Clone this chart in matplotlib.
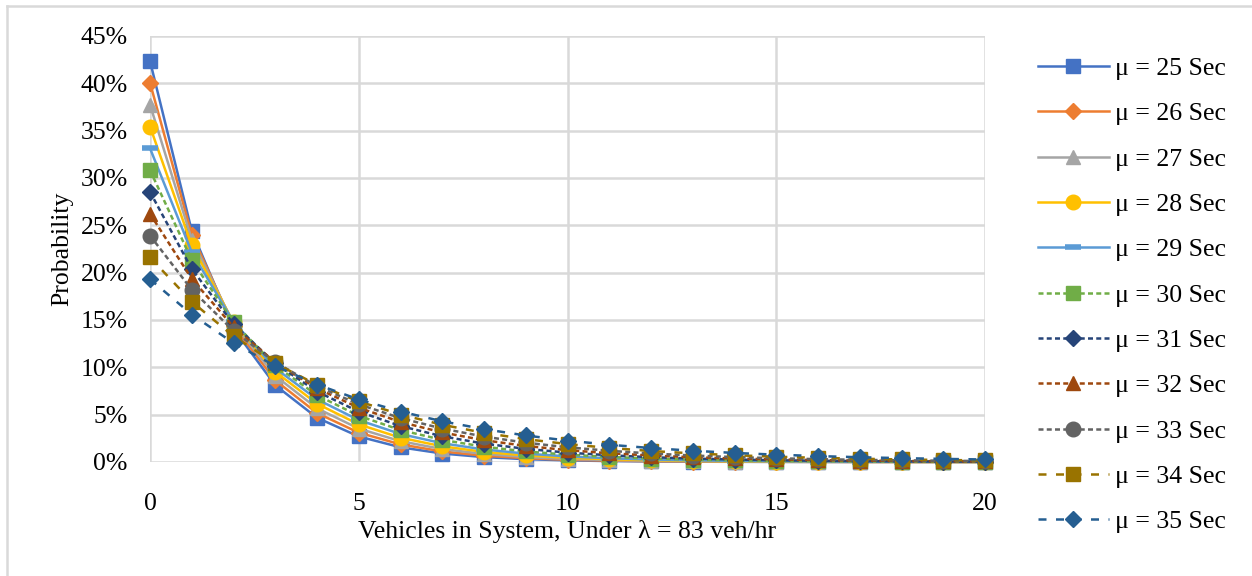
import matplotlib
matplotlib.use("Agg")
import matplotlib.pyplot as plt
from matplotlib.lines import Line2D

plt.rcParams['font.family'] = ['Liberation Serif', 'DejaVu Serif']

# Vehicles in system (n)
vehicles = list(range(21))

# Mean service times (seconds) for each series
service_times = [25, 26, 27, 28, 29, 30, 31, 32, 33, 34, 35]

# Probability (%) of n vehicles in the system, one list per service time
p_25 = [42.36, 24.42, 14.07, 8.11, 4.675, 2.695, 1.553, 0.895, 0.516, 0.297, 0.171,
        0.0988, 0.0569, 0.0328, 0.0189, 0.0109, 0.0063, 0.0036, 0.0021, 0.0012, 0.0007]
p_26 = [40.06, 24.01, 14.39, 8.63, 5.17, 3.10, 1.86, 1.115, 0.668, 0.401, 0.240,
        0.144, 0.0863, 0.0517, 0.0310, 0.0186, 0.0111, 0.0067, 0.0040, 0.0024, 0.0014]
p_27 = [37.75, 23.50, 14.63, 9.107, 5.669, 3.529, 2.197, 1.368, 0.851, 0.530, 0.330,
        0.205, 0.128, 0.0796, 0.0496, 0.0309, 0.0192, 0.0120, 0.0074, 0.0046, 0.0029]
p_28 = [35.44, 22.88, 14.77, 9.536, 6.156, 3.974, 2.565, 1.656, 1.069, 0.690, 0.4455,
        0.2876, 0.1857, 0.1199, 0.0774, 0.0500, 0.0322, 0.0208, 0.0134, 0.0087, 0.0056]
p_29 = [33.14, 22.16, 14.81, 9.905, 6.622, 4.428, 2.960, 1.979, 1.323, 0.885, 0.592,
        0.3955, 0.2644, 0.1768, 0.1182, 0.0790, 0.0528, 0.0353, 0.0236, 0.0158, 0.0106]
p_30 = [30.83, 21.33, 14.75, 10.20, 7.056, 4.880, 3.376, 2.335, 1.615, 1.117, 0.7726,
        0.5344, 0.3696, 0.2557, 0.1768, 0.1223, 0.0846, 0.0585, 0.0405, 0.0280, 0.0194]
p_31 = [28.53, 20.39, 14.57, 10.41, 7.443, 5.320, 3.802, 2.717, 1.942, 1.388, 0.992,
        0.709, 0.5068, 0.3622, 0.2589, 0.1850, 0.1322, 0.0945, 0.0676, 0.0483, 0.0345]
p_32 = [26.22, 19.35, 14.27, 10.53, 7.771, 5.733, 4.230, 3.121, 2.302, 1.699, 1.253,
        0.9247, 0.6822, 0.5033, 0.3713, 0.2740, 0.2021, 0.1491, 0.1100, 0.0812, 0.0599]
p_33 = [23.92, 18.20, 13.85, 10.53, 8.015, 6.098, 4.639, 3.530, 2.686, 2.043, 1.555,
        1.183, 0.900, 0.6848, 0.5210, 0.3964, 0.3016, 0.2295, 0.1746, 0.1328, 0.1011]
p_34 = [21.61, 16.94, 13.28, 10.41, 8.161, 6.398, 5.015, 3.931, 3.082, 2.416, 1.894,
        1.485, 1.164, 0.912, 0.715, 0.5606, 0.4394, 0.3445, 0.2700, 0.2117, 0.1659]
p_35 = [19.31, 15.58, 12.57, 10.14, 8.185, 6.605, 5.330, 4.301, 3.471, 2.801, 2.260,
        1.824, 1.472, 1.188, 0.958, 0.7735, 0.6242, 0.5037, 0.4064, 0.3280, 0.2647]

series = [p_25, p_26, p_27, p_28, p_29, p_30, p_31, p_32, p_33, p_34, p_35]

x_ticks = [0, 5, 10, 15, 20]
y_ticks = [0, 5, 10, 15, 20, 25, 30, 35, 40, 45]

colors = ['#4472C4', '#ED7D31', '#A5A5A5', '#FFC000', '#5B9BD5', '#70AD47',
          '#264478', '#9E480E', '#636363', '#997300', '#255E91']
markers = ['s', 'D', '^', 'o', '_', 's', 'D', '^', 'o', 's', 'D']
dot = (0, (2.0, 1.3))
dash = (0, (3.2, 3.8))
styles = ['-', '-', '-', '-', '-', dot, dot, dot, dot, dash, dash]

W, H = 1252, 576
fig = plt.figure(figsize=(W / 100, H / 100), dpi=100)
ax = fig.add_axes([150 / W, 1 - 462 / H, (985 - 150) / W, (462 - 36) / H])

grid_color = '#D9D9D9'
fs = 18.5

for vals, mu, c, m, ls in zip(series, service_times, colors, markers, styles):
    ms = 10.5
    mew = 1.0
    if m == 'D':
        ms = 8.5
    if m == '^':
        ms = 10.0
    if m == '_':
        ms = 12
        mew = 4.0
    ax.plot(vehicles, vals, color=c, linestyle=ls, linewidth=1.8,
            marker=m, markersize=ms, markerfacecolor=c, markeredgecolor=c,
            markeredgewidth=mew, label=f'\u03bc = {mu} Sec', clip_on=False)

ax.set_xlim(0, 20)
ax.set_ylim(0, 45)
ax.set_xticks(x_ticks)
ax.set_yticks(y_ticks)
ax.set_yticklabels([f'{v}%' for v in y_ticks])
ax.grid(True, color=grid_color, linewidth=1.8)
ax.set_axisbelow(True)
for s in ax.spines.values():
    s.set_visible(False)
ax.tick_params(axis='both', length=0, labelsize=fs, colors='black')
ax.tick_params(axis='x', pad=22)
ax.tick_params(axis='y', pad=16)

ax.set_xlabel('Vehicles in System, Under \u03bb = 83 veh/hr', fontsize=fs, labelpad=4)
ax.set_ylabel('Probability', fontsize=fs, labelpad=5)

fig.legend(loc='upper left', bbox_to_anchor=(1038 / W, 1 - 57 / H),
           frameon=False, fontsize=fs, handlelength=2.75, handletextpad=0.25,
           labelspacing=0.87, borderpad=0, borderaxespad=0)

# Light chart-area border along the top and left edges
fig.add_artist(Line2D([7 / W, 1.0], [1 - 6 / H, 1 - 6 / H], transform=fig.transFigure,
                      color=grid_color, linewidth=1.8))
fig.add_artist(Line2D([7 / W, 7 / W], [0.0, 1 - 6 / H], transform=fig.transFigure,
                      color=grid_color, linewidth=1.8))

fig.savefig('out.png', dpi=100)
